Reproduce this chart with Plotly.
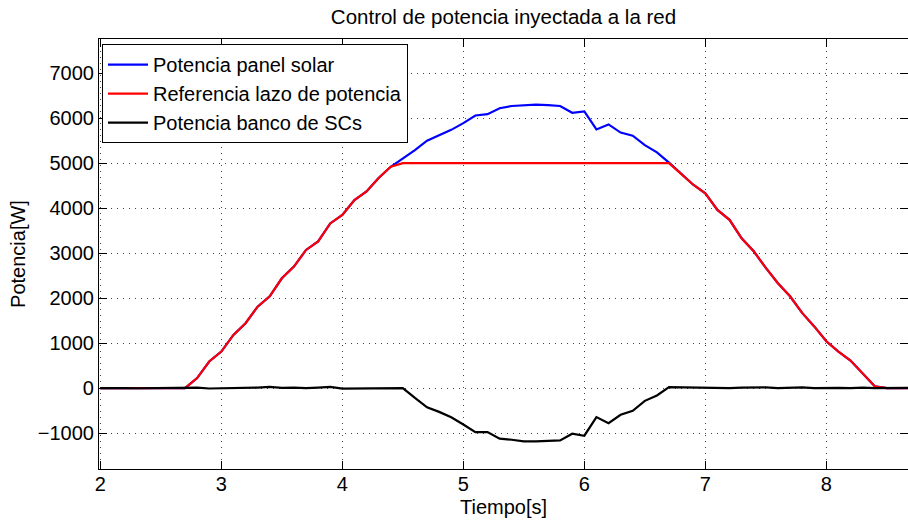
import plotly.graph_objects as go

tiempo = [2.0, 2.1, 2.2, 2.3, 2.4, 2.5, 2.6, 2.7, 2.8, 2.9,
          3.0, 3.1, 3.2, 3.3, 3.4, 3.5, 3.6, 3.7, 3.8, 3.9,
          4.0, 4.1, 4.2, 4.3, 4.4, 4.5, 4.6, 4.7, 4.8, 4.9,
          5.0, 5.1, 5.2, 5.3, 5.4, 5.5, 5.6, 5.7, 5.8, 5.9,
          6.0, 6.1, 6.2, 6.3, 6.4, 6.5, 6.6, 6.7, 6.8, 6.9,
          7.0, 7.1, 7.2, 7.3, 7.4, 7.5, 7.6, 7.7, 7.8, 7.9,
          8.0, 8.1, 8.2, 8.3, 8.4, 8.5, 8.6, 8.7]

p_panel = [0, 0, 0, 0, 0, 0, 0, 0, 222, 590,
           810, 1180, 1440, 1810, 2040, 2440, 2700, 3070, 3260, 3660,
           3850, 4180, 4370, 4670, 4920, 5100, 5290, 5500, 5620, 5740,
           5890, 6060, 6090, 6220, 6270, 6280, 6300, 6290, 6270, 6120,
           6150, 5750, 5860, 5680, 5610, 5400, 5240, 5010, 4760, 4520,
           4330, 3960, 3740, 3330, 3040, 2670, 2330, 2040, 1670, 1370,
           1040, 810, 610, 330, 40, 0, 0, 0]

p_ref = [0, 0, 0, 0, 0, 0, 0, 0, 222, 590,
         810, 1180, 1440, 1810, 2040, 2440, 2700, 3070, 3260, 3660,
         3850, 4180, 4370, 4670, 4920, 5000, 5000, 5000, 5000, 5000,
         5000, 5000, 5000, 5000, 5000, 5000, 5000, 5000, 5000, 5000,
         5000, 5000, 5000, 5000, 5000, 5000, 5000, 5000, 4760, 4520,
         4330, 3960, 3740, 3330, 3040, 2670, 2330, 2040, 1670, 1370,
         1040, 810, 610, 330, 40, 0, 0, 0]

p_scs = [0, 5, 0, -5, 0, 5, 0, 0, 10, -10,
         -5, -15, 0, 10, 25, 5, 10, 0, 10, 25,
         -15, -10, -5, -10, -5, 0, -220, -430, -530, -650,
         -810, -980, -980, -1125, -1150, -1185, -1185, -1178, -1165, -1015,
         -1060, -645, -780, -595, -505, -285, -165, 20, 15, 10,
         20, 10, 0, 10, 20, 15, 0, 5, 15, 0,
         10, 5, 0, 10, 0, 5, 10, 5]

x_ticks = [2, 3, 4, 5, 6, 7, 8]
y_ticks = [-1000, 0, 1000, 2000, 3000, 4000, 5000, 6000, 7000]

FONT = "Liberation Sans, Arial, Helvetica, sans-serif"

fig = go.Figure()
fig.add_trace(go.Scatter(x=tiempo, y=p_panel, mode="lines", name="Potencia panel solar",
                         line=dict(color="#0000ff", width=2.2)))
fig.add_trace(go.Scatter(x=tiempo, y=p_ref, mode="lines", name="Referencia lazo de potencia",
                         line=dict(color="#ff0000", width=2.2)))
fig.add_trace(go.Scatter(x=tiempo, y=p_scs, mode="lines", name="Potencia banco de SCs",
                         line=dict(color="#000000", width=2.2)))

axis_common = dict(
    showline=True, linecolor="black", linewidth=1.2, mirror="ticks",
    ticks="inside", ticklen=8, tickwidth=1, tickcolor="black",
    showgrid=True, gridcolor="#444444", gridwidth=1, griddash="1px,5px",
    zeroline=False, tickfont=dict(family=FONT, size=20, color="black"),
    automargin=False,
)

fig.update_layout(
    width=908, height=523,
    margin=dict(l=99, r=0, t=39, b=54),
    paper_bgcolor="white", plot_bgcolor="white",
    font=dict(family=FONT, size=20, color="black"),
    title=dict(text="Control de potencia inyectada a la red", x=0.5, xref="paper",
               y=1 - 17 / 523, yanchor="middle", font=dict(family=FONT, size=20.5, color="black")),
    xaxis=dict(range=[1.989, 8.675], tickvals=x_ticks, ticktext=[str(v) for v in x_ticks],
               ticklabelstandoff=-3, **axis_common),
    yaxis=dict(range=[-1800, 7760], tickvals=y_ticks,
               ticktext=[("\u2212" + str(-v)) if v < 0 else str(v) for v in y_ticks],
               title=dict(text="Potencia[W]", standoff=6, font=dict(family=FONT, size=20)),
               **axis_common),
    legend=dict(x=0.0037, y=0.988, xanchor="left", yanchor="top",
                bgcolor="white", bordercolor="black", borderwidth=1,
                font=dict(family=FONT, size=20, color="black"),
                tracegroupgap=0, itemwidth=40),
    showlegend=True,
    annotations=[dict(text="Tiempo[s]", xref="paper", yref="paper", x=0.5, y=-38 / 430.3,
                      xanchor="center", yanchor="middle", showarrow=False,
                      font=dict(family=FONT, size=20, color="black"))],
)

fig.write_html("out.html", config={"displayModeBar": False},
               post_script="document.body.style.margin='0';")
